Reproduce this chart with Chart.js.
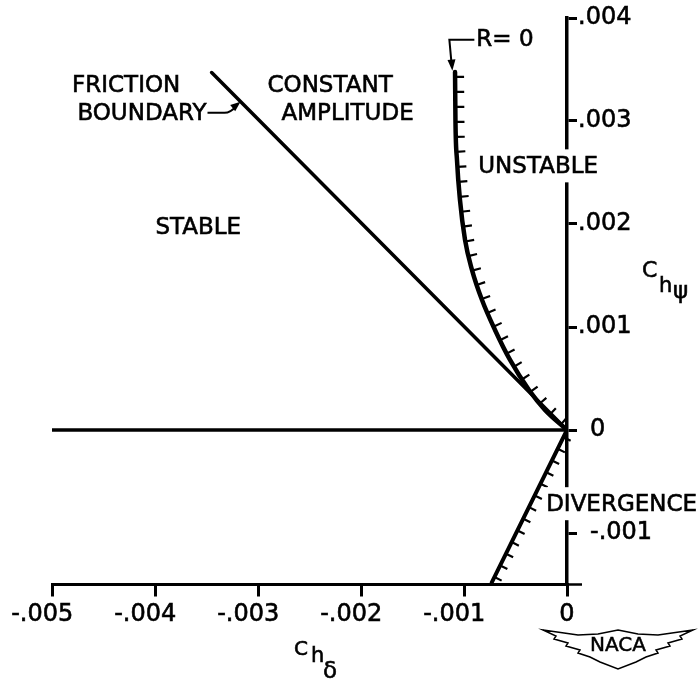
<!DOCTYPE html>
<html>
<head>
<meta charset="utf-8">
<script src="https://cdn.jsdelivr.net/npm/chart.js@4.4.1/dist/chart.umd.min.js"></script>
<style>
  html, body { margin: 0; padding: 0; background: #fff; }
  #wrap { width: 700px; height: 681px; }
</style>
</head>
<body>
<div id="wrap"><canvas id="hingeChart" width="700" height="681"></canvas></div>
<script>
// axis ticks
const xTickValues = [-0.005, -0.004, -0.003, -0.002, -0.001, 0];
const xTickLabels = ['-.005', '-.004', '-.003', '-.002', '-.001', '0'];
const yTickValues = [-0.001, 0, 0.001, 0.002, 0.003, 0.004];
const yTickLabels = ['-.001', '0', '.001', '.002', '.003', '.004'];

// boundaries (x = Ch delta, y = Ch psi)
const zeroLineX = [-0.005, 0];
const zeroLineY = [0, 0];
const frictionX = [-0.00345, 0];
const frictionY = [0.00347, 0];
const rZeroX = [-0.001087, -0.001083, -0.001068, -0.001039, -0.00099, -0.000922, -0.000825, -0.000699, -0.000553, -0.000369, -0.000214, 0];
const rZeroY = [0.003476, 0.00301, 0.002621, 0.002233, 0.001845, 0.001553, 0.001262, 0.000971, 0.00068, 0.000388, 0.000194, 0];
const divergenceX = [0, -0.00073];
const divergenceY = [0, -0.00148];

const FONT = '"DejaVu Sans", "Liberation Sans", sans-serif';

function pts(xs, ys) {
  return xs.map((x, i) => ({x: x, y: ys[i]}));
}

function arrowHead(ctx, x, y, ang, len, half) {
  ctx.beginPath();
  ctx.moveTo(x, y);
  ctx.lineTo(x - len * Math.cos(ang) + half * Math.sin(ang), y - len * Math.sin(ang) - half * Math.cos(ang));
  ctx.lineTo(x - len * Math.cos(ang) - half * Math.sin(ang), y - len * Math.sin(ang) + half * Math.cos(ang));
  ctx.closePath();
  ctx.fill();
}

function inkText(ctx, t, x, y) {
  ctx.fillText(t, x, y);
  ctx.strokeText(t, x, y);
}

// short ticks along a boundary, on its right hand side
const hatchPlugin = {
  id: 'hatch',
  afterDatasetsDraw(chart) {
    const ctx = chart.ctx;
    chart.data.datasets.forEach((ds, i) => {
      if (!ds.hatch) return;
      const els = chart.getDatasetMeta(i).data;
      const path = [];
      for (let k = 0; k < els.length - 1; k++) {
        const a = els[k], b = els[k + 1];
        const c1x = a.cp2x ?? a.x, c1y = a.cp2y ?? a.y;
        const c2x = b.cp1x ?? b.x, c2y = b.cp1y ?? b.y;
        for (let s = 0; s < 40; s++) {
          const t = s / 40, u = 1 - t;
          path.push([
            u*u*u*a.x + 3*u*u*t*c1x + 3*u*t*t*c2x + t*t*t*b.x,
            u*u*u*a.y + 3*u*u*t*c1y + 3*u*t*t*c2y + t*t*t*b.y
          ]);
        }
      }
      const last = els[els.length - 1];
      path.push([last.x, last.y]);

      let next = ds.hatch.start, run = 0;
      ctx.save();
      ctx.strokeStyle = '#000';
      ctx.lineWidth = 2.2;
      ctx.beginPath();
      for (let k = 1; k < path.length; k++) {
        const [x0, y0] = path[k - 1], [x1, y1] = path[k];
        const seg = Math.hypot(x1 - x0, y1 - y0);
        while (seg > 0 && run + seg >= next) {
          const f = (next - run) / seg;
          const x = x0 + (x1 - x0) * f, y = y0 + (y1 - y0) * f;
          let nx = (y1 - y0) / seg, ny = -(x1 - x0) / seg;
          if (nx < 0) { nx = -nx; ny = -ny; }
          ctx.moveTo(x, y);
          ctx.lineTo(x + nx * ds.hatch.len, y + ny * ds.hatch.len);
          next += ds.hatch.step;
        }
        run += seg;
      }
      ctx.stroke();
      ctx.restore();
    });
  }
};

// region names, leaders, axis titles, logo
const notesPlugin = {
  id: 'notes',
  afterDraw(chart) {
    const {ctx, chartArea} = chart;
    const sx = chart.scales.x, sy = chart.scales.y;
    const at = (xv, yv) => [sx.getPixelForValue(xv), sy.getPixelForValue(yv)];
    ctx.save();
    ctx.fillStyle = '#000';
    ctx.strokeStyle = '#000';
    ctx.textBaseline = 'middle';
    ctx.font = '23px ' + FONT;

    const notes = [
      {t: 'FRICTION', x: -0.00428, y: 0.00334},
      {t: 'BOUNDARY', x: -0.00350, y: 0.00307, align: 'right'},
      {t: 'CONSTANT', x: -0.00230, y: 0.00334},
      {t: 'AMPLITUDE', x: -0.00213, y: 0.00307},
      {t: 'STABLE', x: -0.00358, y: 0.00196},
      {t: 'UNSTABLE', x: -0.00028, y: 0.00255, knock: true},
      {t: 'DIVERGENCE', x: 0.00053, y: -0.00073, knock: true},
      {t: 'R= 0', x: -0.00088, y: 0.00379, align: 'left'}
    ];
    notes.forEach(n => {
      const [px, py] = at(n.x, n.y);
      const align = n.align || 'center';
      const w = ctx.measureText(n.t).width;
      const left = align === 'center' ? px - w / 2 : (align === 'right' ? px - w : px);
      if (n.knock) {
        ctx.fillStyle = '#fff';
        ctx.fillRect(left - 3, py - 18, w + 6, 33);
        ctx.fillStyle = '#000';
      }
      ctx.textAlign = align;
      ctx.lineWidth = 0.6;
      inkText(ctx, n.t, px, py);
    });

    // friction boundary leader
    let [bx, by] = at(-0.00350, 0.00307);
    bx += 1; by -= 1;
    ctx.lineWidth = 2;
    ctx.beginPath();
    ctx.moveTo(bx, by);
    ctx.lineTo(bx + 17, by);
    ctx.quadraticCurveTo(bx + 23, by, bx + 29, by - 7);
    ctx.stroke();
    arrowHead(ctx, bx + 33, by - 11, Math.atan2(-0.8, 1), 10, 4);

    // R = 0 leader
    const [rx, ry] = at(-0.00088, 0.00379);
    ctx.beginPath();
    ctx.moveTo(rx - 2, ry);
    ctx.lineTo(rx - 27, ry);
    ctx.lineTo(rx - 25, ry + 22);
    ctx.stroke();
    arrowHead(ctx, rx - 24, ry + 31, Math.atan2(1, 0.08), 11, 4);

    // x axis runs a little past the y axis
    ctx.lineWidth = 2.5;
    ctx.beginPath();
    ctx.moveTo(chartArea.right, chartArea.bottom);
    ctx.lineTo(chartArea.right + 15, chartArea.bottom);
    ctx.stroke();

    // axis titles
    ctx.textAlign = 'left';
    ctx.textBaseline = 'alphabetic';
    ctx.lineWidth = 0.6;
    const ox = chartArea.right, oy = chartArea.bottom;
    ctx.font = '22px ' + FONT; inkText(ctx, 'C', ox + 75, 277);
    ctx.font = '21px ' + FONT; inkText(ctx, 'h', ox + 92, 292);
    ctx.font = '23px ' + FONT; inkText(ctx, '\u03C8', ox + 106, 298);
    ctx.font = '20px ' + FONT; inkText(ctx, 'C', 294, oy + 70);
    ctx.font = '21px ' + FONT; inkText(ctx, 'h', 311, oy + 77);
    ctx.font = '23px ' + FONT; inkText(ctx, '\u03B4', 323, oy + 93);

    // NACA wings
    const cx = ox + 51, cy = oy + 60.5;
    const half = [[0, -15], [20, -11], [40, -10], [75, -15], [62, -9], [64, -6], [50, -2], [52, 1], [38, 5], [40, 8], [28, 12], [18, 17], [0, 24]];
    ctx.lineWidth = 1.5;
    ctx.beginPath();
    half.forEach(([dx, dy], k) => {
      if (k === 0) ctx.moveTo(cx + dx, cy + dy); else ctx.lineTo(cx + dx, cy + dy);
    });
    for (let k = half.length - 2; k >= 1; k--) ctx.lineTo(cx - half[k][0], cy + half[k][1]);
    ctx.closePath();
    ctx.stroke();
    ctx.font = '20px ' + FONT;
    ctx.textAlign = 'center';
    ctx.textBaseline = 'middle';
    ctx.lineWidth = 0.5;
    inkText(ctx, 'NACA', cx, cy + 1);
    ctx.restore();
  }
};

new Chart(document.getElementById('hingeChart'), {
  type: 'scatter',
  data: {
    datasets: [
      {data: pts(zeroLineX, zeroLineY), showLine: true, borderColor: '#000', borderWidth: 3.5},
      {data: pts(frictionX, frictionY), showLine: true, borderColor: '#000', borderWidth: 3.5},
      {data: pts(rZeroX, rZeroY), showLine: true, borderColor: '#000', borderWidth: 4.5, cubicInterpolationMode: 'monotone',
        hatch: {start: 5, step: 15, len: 9}},
      {data: pts(divergenceX, divergenceY), showLine: true, borderColor: '#000', borderWidth: 4,
        hatch: {start: 8, step: 13, len: 8}}
    ]
  },
  options: {
    responsive: false,
    animation: false,
    layout: {padding: {left: 52, top: 18, right: 0, bottom: 0}},
    plugins: {legend: {display: false}, tooltip: {enabled: false}},
    elements: {point: {radius: 0}, line: {borderCapStyle: 'round'}},
    scales: {
      x: {
        type: 'linear',
        position: 'bottom',
        min: -0.005,
        max: 0,
        afterBuildTicks: s => { s.ticks = xTickValues.map(v => ({value: v})); },
        afterFit: s => { s.height = 96.5; },
        border: {display: true, color: '#000', width: 3},
        grid: {drawOnChartArea: false, drawTicks: true, tickLength: 12, color: '#000', lineWidth: 3},
        ticks: {
          padding: 4, color: '#000', maxRotation: 0, autoSkip: false,
          textStrokeColor: '#000', textStrokeWidth: 0.6,
          font: {family: FONT, size: 24},
          // the minus sign hangs to the left of the tick
          callback: (v, i) => xTickLabels[i].startsWith('-') ? xTickLabels[i] + '\u2002 ' : xTickLabels[i]
        }
      },
      y: {
        type: 'linear',
        position: 'right',
        min: -0.0015,
        max: 0.004,
        afterBuildTicks: s => { s.ticks = yTickValues.map(v => ({value: v})); },
        afterFit: s => { s.width = 133; },
        border: {display: true, color: '#000', width: 3.5},
        grid: {drawOnChartArea: false, drawTicks: true, tickLength: 10, color: '#000', lineWidth: 3},
        ticks: {
          padding: 1, color: '#000', autoSkip: false,
          textStrokeColor: '#000', textStrokeWidth: 0.6,
          font: {family: FONT, size: 24},
          callback: (v, i) => yTickLabels[i].startsWith('.') ? yTickLabels[i] : '\u2002' + yTickLabels[i]
        }
      }
    }
  },
  plugins: [hatchPlugin, notesPlugin]
});
</script>
</body>
</html>
